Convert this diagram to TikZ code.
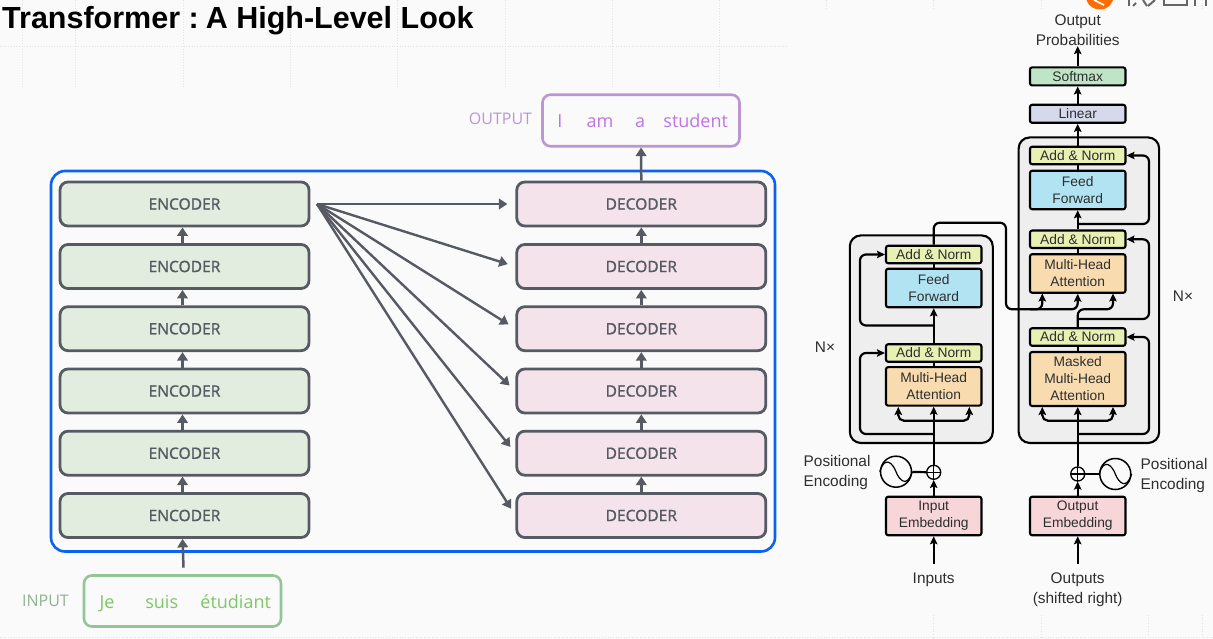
\documentclass[tikz,border=0pt]{standalone}
\usepackage{fontspec}
\setmainfont{Liberation Sans}
\newfontfamily\osans{Open Sans}
\newfontfamily\osansb[FakeBold=1.2]{Open Sans}
\usetikzlibrary{arrows.meta,calc}
\definecolor{bgc}{HTML}{FAFAFA}
\definecolor{slate}{HTML}{565A63}
\definecolor{bluef}{HTML}{0A62F5}
\definecolor{encf}{HTML}{E2EDDF}
\definecolor{decf}{HTML}{F5E3EC}
\definecolor{inb}{HTML}{93C596}
\definecolor{intx}{HTML}{7CC765}
\definecolor{inl}{HTML}{8DB48E}
\definecolor{outb}{HTML}{BC96CF}
\definecolor{outt}{HTML}{BE74E4}
\definecolor{outl}{HTML}{BD94D6}
\definecolor{stackf}{HTML}{EEEEEE}
\definecolor{anf}{HTML}{E8F0B4}
\definecolor{fff}{HTML}{B2E3F3}
\definecolor{mhf}{HTML}{F8DCB0}
\definecolor{embf}{HTML}{F7D6DA}
\definecolor{linf}{HTML}{D6D9EC}
\definecolor{softf}{HTML}{BFE5C6}
\definecolor{ink}{HTML}{2E2E2E}
\definecolor{gridc}{HTML}{E2E2E2}
\tikzset{
  hbox/.style={draw=slate,line width=2.8pt,rounded corners=8pt,minimum width=249pt,minimum height=44pt,inner sep=0pt,text=slate,font=\osansb\fontsize{15.6}{17}\selectfont},
  encbox/.style={hbox,fill=encf},
  decbox/.style={hbox,fill=decf},
  harrow/.style={draw=slate,line width=2.5pt,-{Triangle[length=8.5pt,width=10.5pt]}},
  fanarrow/.style={harrow,line width=2.4pt,shorten >=8pt},
  wordin/.style={text=intx,font=\osans\fontsize{18}{20}\selectfont,inner sep=0pt,anchor=base},
  wordout/.style={text=outt,font=\osans\fontsize{18}{20}\selectfont,inner sep=0pt,anchor=base},
  tf/.style={draw=black,line width=2.1pt,rounded corners=2.2pt,minimum width=95.5pt,inner sep=0pt,align=center,text=ink,font=\fontsize{13.8}{17}\selectfont},
  stack/.style={draw=black,line width=2.1pt,rounded corners=11pt,fill=stackf,inner sep=0pt},
  lbl/.style={text=ink,inner sep=0pt,align=center,font=\fontsize{15.4}{20}\selectfont},
  tarrow/.style={draw=black,line width=2.2pt,-{Stealth[length=8pt,width=7.5pt,inset=1.5pt]}},
  tline/.style={draw=black,line width=2.2pt},
  round/.style={rounded corners=5.5pt},
  gridl/.style={draw=gridc,line width=.7pt,dotted},
}
\begin{document}
\begin{tikzpicture}[x=1pt,y=-1pt]
\useasboundingbox (0,0) rectangle (1213,639);
\fill[bgc] (0,0) rectangle (1213,639);
% faint dotted guides
\foreach \gx in {22,75,183,290,397,505,612,719} \draw[gridl] (\gx,0) -- (\gx,87);
\draw[gridl] (0,46) -- (787,46);
\foreach \gx in {826,933,1041,1148,1202} \draw[gridl] (\gx,0) -- (\gx,9);
\foreach \gx in {933.7,1041,1148,1202.5} \draw[gridl] (\gx,615) -- (\gx,637);
\draw[gridl] (0,637.6) -- (1213,637.6);
% cropped logo
\fill[orange!85!red] (1086.5,0) .. controls (1088,6) and (1094,9.5) .. (1100,9.5) .. controls (1106,9.5) and (1111,6) .. (1113,0) -- cycle;
\draw[white,line width=1.6pt] (1094,0) -- (1104,5);
\draw[gray!80!black,line width=2pt] (1129,0) -- (1129,6);
\draw[gray!80!black,line width=2pt] (1136,3) -- (1133,6);
\draw[gray!80!black,line width=2pt] (1143,0) -- (1147,6);
\draw[gray!80!black,line width=2pt] (1155,0) -- (1148,6);
\draw[gray!80!black,line width=2pt] (1164,0) -- (1164,5.5) -- (1187,5.5) -- (1187,0);
\draw[gray!80!black,line width=2pt] (1195,0) -- (1195,6);
\draw[gray!80!black,line width=2pt] (1206,0) -- (1206,6);
% title
\node[anchor=base west,inner sep=0pt,font=\bfseries\fontsize{30.5}{34}\selectfont] (title) at (2,28.7) {Transformer :\kern-1.5pt\ A High-Level Look};
% left diagram
\draw[bluef,line width=2.6pt,rounded corners=14pt] (51,171) rectangle (775,551.5);
\node[encbox] (e1) at (184.5,204) {ENCODER};
\node[encbox] (e2) at (184.5,266.5) {ENCODER};
\node[encbox] (e3) at (184.5,328.7) {ENCODER};
\node[encbox] (e4) at (184.5,391) {ENCODER};
\node[encbox] (e5) at (184.5,453.2) {ENCODER};
\node[encbox] (e6) at (184.5,515.5) {ENCODER};
\node[decbox] (d1) at (641.3,204) {DECODER};
\node[decbox] (d2) at (641.3,266.5) {DECODER};
\node[decbox] (d3) at (641.3,328.7) {DECODER};
\node[decbox] (d4) at (641.3,391) {DECODER};
\node[decbox] (d5) at (641.3,453.2) {DECODER};
\node[decbox] (d6) at (641.3,515.5) {DECODER};
\foreach \ga/\gb in {e6/e5,e5/e4,e4/e3,e3/e2,e2/e1}
  \draw[harrow] ([xshift=-2pt]\ga.north) -- ([xshift=-2pt]\gb.south);
\foreach \ga/\gb in {d6/d5,d5/d4,d4/d3,d3/d2,d2/d1}
  \draw[harrow] (\ga.north) -- (\gb.south);
\coordinate (fan) at (317,204);
\foreach \gb in {d1,d2,d3,d4,d5,d6}
  \draw[fanarrow] (fan) -- (\gb.west);
% input / output boxes
\node[draw=inb,line width=2.6pt,rounded corners=8pt,minimum width=197pt,minimum height=51pt,inner sep=0pt] (inbox) at (182.5,601) {};
\node[draw=outb,line width=2.6pt,rounded corners=8pt,minimum width=197pt,minimum height=51.5pt,inner sep=0pt] (outbox) at (641,120.5) {};
\node[wordin] (w1) at (107,608) {Je};
\node[wordin] (w2) at (161.7,608) {suis};
\node[wordin] (w3) at (235.7,608) {étudiant};
\node[wordout] (o1) at (560,128) {I};
\node[wordout] (o2) at (600,128) {am};
\node[wordout] (o3) at (640,128) {a};
\node[wordout] (o4) at (695.7,128) {student};
\node[text=inl,inner sep=0pt,font=\osans\fontsize{16}{18}\selectfont] (inl) at (45.5,601) {INPUT};
\node[text=outl,inner sep=0pt,font=\osans\fontsize{16}{18}\selectfont] (outl) at (500.5,119) {OUTPUT};
\draw[harrow] ([shift={(1pt,6.5pt)}]inbox.north) -- ([xshift=-2pt]e6.south);
\draw[harrow] (d1.north) -- (outbox.south);
% right diagram: stacks
\node[stack,minimum width=143pt,minimum height=207.5pt] (encstack) at (921.3,339.2) {};
\node[stack,minimum width=140.5pt,minimum height=305.5pt] (decstack) at (1088.9,290.2) {};
% encoder side
\node[tf,fill=anf,minimum height=17.5pt] (ean2) at (933.7,254.5) {Add \& Norm};
\node[tf,fill=fff,minimum height=38.5pt] (eff) at (933.7,288) {Feed\\Forward};
\node[tf,fill=anf,minimum height=17.5pt] (ean1) at (933.7,353) {Add \& Norm};
\node[tf,fill=mhf,minimum height=38.5pt] (emh) at (933.7,386.4) {Multi-Head\\Attention};
\node[tf,fill=embf,minimum height=38.5pt] (eemb) at (933.7,516) {Input\\Embedding};
% decoder side
\node[tf,fill=softf,minimum height=18pt] (soft) at (1077.7,76.4) {Softmax};
\node[tf,fill=linf,minimum height=18pt] (lin) at (1077.7,113.8) {Linear};
\node[tf,fill=anf,minimum height=17.5pt] (dan3) at (1077.7,155.5) {Add \& Norm};
\node[tf,fill=fff,minimum height=38.5pt] (dff) at (1077.7,190) {Feed\\Forward};
\node[tf,fill=anf,minimum height=17.5pt] (dan2) at (1077.7,239.3) {Add \& Norm};
\node[tf,fill=mhf,minimum height=38.5pt] (dmh) at (1077.7,273.5) {Multi-Head\\Attention};
\node[tf,fill=anf,minimum height=17.5pt] (dan1) at (1077.7,337) {Add \& Norm};
\node[tf,fill=mhf,minimum height=54pt] (dmm) at (1077.7,379) {Masked\\Multi-Head\\Attention};
\node[tf,fill=embf,minimum height=38.5pt] (demb) at (1077.7,516) {Output\\Embedding};
% positional encoding
\node[circle,draw=black,line width=1.3pt,minimum size=14pt,inner sep=0pt] (eplus) at (933.7,472.3) {};
\node[circle,draw=black,line width=1.3pt,minimum size=14pt,inner sep=0pt] (dplus) at (1077.7,474) {};
\node[circle,draw=black,line width=1.5pt,minimum size=31pt,inner sep=0pt] (esin) at (896,471.7) {};
\node[circle,draw=black,line width=1.5pt,minimum size=31pt,inner sep=0pt] (dsin) at (1115.3,474) {};
\foreach \gn in {eplus,dplus} {
  \draw[black,line width=1.1pt] (\gn.north) -- (\gn.south);
  \draw[black,line width=1.1pt] (\gn.west) -- (\gn.east);
}
\foreach \gn in {esin,dsin}
  \draw[black,line width=1.2pt] (\gn.west) .. controls ($(\gn.center)+(-11,-17)$) and ($(\gn.center)+(-3,-8)$) .. (\gn.center) .. controls ($(\gn.center)+(3,8)$) and ($(\gn.center)+(11,17)$) .. (\gn.east);
\draw[tline] (esin) -- (eplus);
\draw[tline] (dsin) -- (dplus);
% text labels
\node[lbl] (lop) at (1077.7,30.5) {Output\\Probabilities};
\node[lbl] (lin1) at (933.7,580) {Inputs};
\node[lbl] (lout) at (1077.7,590) {Outputs\\(shifted right)};
\node[lbl,align=left,anchor=west] (lpe) at (803.5,473) {Positional\\Encoding};
\node[lbl,align=left,anchor=west] (rpe) at (1140.5,476) {Positional\\Encoding};
\node[lbl] (nxe) at (825,347) {N×};
\node[lbl] (nxd) at (1183,296) {N×};
% straight connectors
\coordinate (einp) at (933.7,564);
\coordinate (dinp) at (1077.7,564);
\draw[tarrow] (einp) -- (eemb.south);
\draw[tarrow] (dinp) -- (demb.south);
\draw[tarrow] (eemb.north) -- (eplus.south);
\draw[tarrow] (demb.north) -- (dplus.south);
\draw[tarrow] (eplus.north) -- (emh.south);
\draw[tarrow] (dplus.north) -- (dmm.south);
\draw[tline] (emh.north) -- (ean1.south);
\draw[tline] (dmm.north) -- (dan1.south);
\draw[tline] (dmh.north) -- (dan2.south);
\draw[tline] (dff.north) -- (dan3.south);
\draw[tline] (eff.north) -- (ean2.south);
\draw[tarrow] (ean1.north) -- (eff.south);
\draw[tarrow] (dan2.north) -- (dff.south);
\draw[tarrow] (dan3.north) -- (lin.south);
\draw[tarrow] (lin.north) -- (soft.south);
\draw[tarrow] (soft.north) -- (lop.south);
% attention fan-ins
\coordinate (ebr) at (933.7,420.7);
\coordinate (dbr) at (1077.7,420.7);
\draw[tarrow,round] (ebr) -- (898.3,420.7) -- (898.3,407);
\draw[tarrow,round] (ebr) -- (969.3,420.7) -- (969.3,407);
\draw[tarrow,round] (dbr) -- (1042.3,420.7) -- (1042.3,407);
\draw[tarrow,round] (dbr) -- (1113,420.7) -- (1113,407);
% residuals
\coordinate (eres1) at (933.7,434);
\coordinate (eres2) at (933.7,325.5);
\coordinate (dres1) at (1077.7,434);
\coordinate (dres2) at (1077.7,319);
\coordinate (dres3) at (1077.7,224);
\draw[tarrow,rounded corners=6pt] (eres1) -- (860,434) -- (860,353) -- (ean1.west);
\draw[tarrow,rounded corners=6pt] (eres2) -- (860,325.5) -- (860,254.5) -- (ean2.west);
\draw[tarrow,rounded corners=6pt] (dres1) -- (1149,434) -- (1149,337) -- (dan1.east);
\draw[tarrow,rounded corners=6pt] (dres2) -- (1149,319) -- (1149,239.3) -- (dan2.east);
\draw[tarrow,rounded corners=6pt] (dres3) -- (1149,224) -- (1149,155.5) -- (dan3.east);
% encoder output into decoder attention
\draw[tarrow,rounded corners=6pt] (ean2.north) -- (933.7,222.7) -- (1006,222.7) -- (1006,309.3) -- (1042.3,309.3) -- (1042.3,293.5);
\draw[tarrow,rounded corners=6pt] (1030,309.3) -- (1077.7,309.3) -- (dmh.south);
\draw[tarrow,rounded corners=6pt] (dan1.north) -- (1077.7,309.3) -- (1113,309.3) -- (1113,293.5);
\end{tikzpicture}
\end{document}
